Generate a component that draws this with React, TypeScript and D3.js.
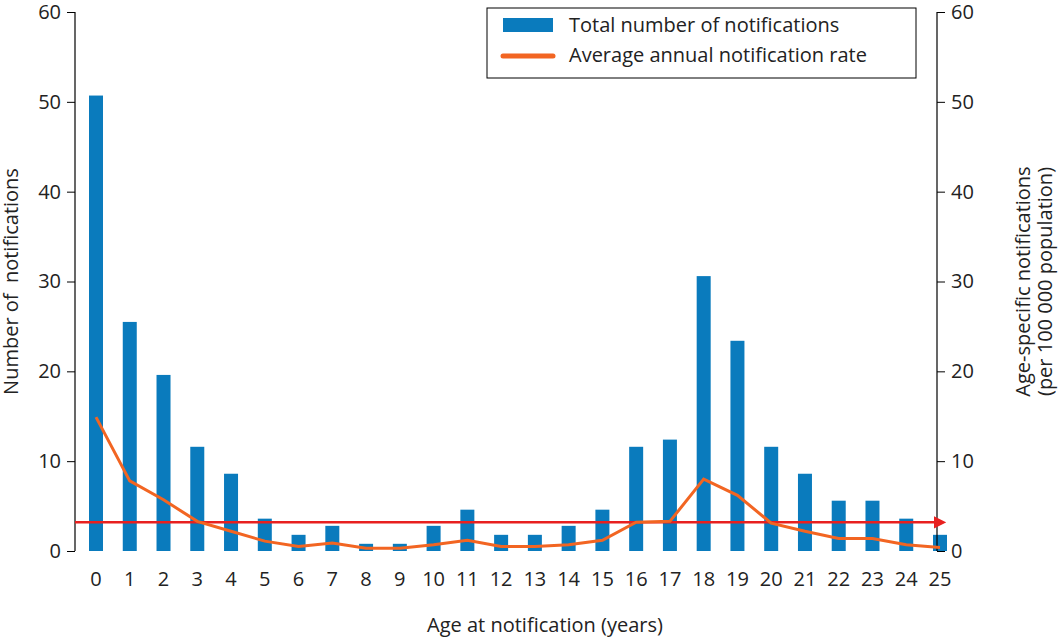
import * as d3 from "d3";
import { useEffect, useRef } from "react";

const ages = d3.range(0, 26);
const notifications = [50.7, 25.5, 19.6, 11.6, 8.6, 3.6, 1.8, 2.8, 0.8, 0.8, 2.8, 4.6, 1.8, 1.8, 2.8, 4.6, 11.6, 12.4, 30.6, 23.4, 11.6, 8.6, 5.6, 5.6, 3.6, 1.8];
const rates = [14.9, 7.8, 5.7, 3.3, 2.2, 1.1, 0.5, 0.9, 0.3, 0.3, 0.7, 1.2, 0.5, 0.5, 0.7, 1.2, 3.2, 3.3, 8.0, 6.2, 3.1, 2.2, 1.4, 1.4, 0.7, 0.4];
const averageRate = 3.2;
const yTicks = [0, 10, 20, 30, 40, 50, 60];

export default function App() {
  const ref = useRef<SVGSVGElement | null>(null);

  useEffect(() => {
    const svg = d3.select(ref.current);
    svg.selectAll("*").remove();
    const font = "'Open Sans', 'Noto Sans', sans-serif";
    const left = 75, right = 937, top = 12, bottom = 551;

    const x = d3.scaleLinear().domain([0, 25]).range([96, 940]);
    const y = d3.scaleLinear().domain([0, 60]).range([bottom, top]);
    const y2 = d3.scaleLinear().domain([0, 60]).range([bottom, top]);

    svg.append("defs").append("marker").attr("id", "arr").attr("viewBox", "0 0 10 10")
      .attr("refX", 5).attr("refY", 5).attr("markerWidth", 5).attr("markerHeight", 5)
      .attr("orient", "auto").attr("markerUnits", "strokeWidth")
      .append("path").attr("d", "M0,0L10,5L0,10z").attr("fill", "#e8201f");

    svg.append("g").selectAll("rect").data(notifications).join("rect")
      .attr("x", (_, i) => x(ages[i]) - 7).attr("width", 14)
      .attr("y", (d) => y(d)).attr("height", (d) => bottom - y(d))
      .attr("fill", "#0a7bbd");

    const la = svg.append("g").attr("transform", `translate(${left},0)`)
      .call(d3.axisLeft(y).tickValues(yTicks).tickSize(8).tickPadding(6));
    const ra = svg.append("g").attr("transform", `translate(${right},0)`)
      .call(d3.axisRight(y2).tickValues(yTicks).tickSize(8).tickPadding(6));
    [la, ra].forEach((a) => {
      a.select(".domain").attr("stroke", "#000").attr("stroke-width", 1.2).attr("d", `M0,${top}V${bottom}`);
      a.selectAll("text").attr("font-family", font).attr("font-size", 20).attr("fill", "#222");
    });

    svg.append("g").selectAll("text").data(ages).join("text")
      .attr("x", (d) => x(d)).attr("y", 586).attr("text-anchor", "middle")
      .attr("font-family", font).attr("font-size", 20).attr("fill", "#222").text((d) => d);

    svg.append("line").attr("x1", left).attr("x2", 940)
      .attr("y1", y2(averageRate)).attr("y2", y2(averageRate))
      .attr("stroke", "#e8201f").attr("stroke-width", 2.5).attr("marker-end", "url(#arr)");

    svg.append("path").datum(rates)
      .attr("d", d3.line<number>().x((_, i) => x(ages[i])).y((d) => y2(d)))
      .attr("fill", "none").attr("stroke", "#f26522").attr("stroke-width", 3);

    svg.append("text").attr("x", 545).attr("y", 632).attr("text-anchor", "middle")
      .attr("font-family", font).attr("font-size", 20).attr("fill", "#222").text("Age at notification (years)");
    svg.append("text").attr("transform", `translate(18,${(top + bottom) / 2}) rotate(-90)`)
      .attr("text-anchor", "middle").attr("font-family", font).attr("font-size", 20).attr("fill", "#222")
      .attr("xml:space", "preserve").style("white-space", "pre")
      .text("Number of  notifications");
    const t2 = svg.append("text").attr("transform", `translate(1030,${(top + bottom) / 2}) rotate(-90)`)
      .attr("text-anchor", "middle").attr("font-family", font).attr("font-size", 20).attr("fill", "#222");
    t2.append("tspan").attr("x", 0).attr("dy", 0).text("Age-specific notifications");
    t2.append("tspan").attr("x", 0).attr("dy", 22).text("(per 100 000 population)");

    const lg = svg.append("g");
    lg.append("rect").attr("x", 487).attr("y", 8).attr("width", 429).attr("height", 70)
      .attr("fill", "#fff").attr("stroke", "#000").attr("stroke-width", 1);
    lg.append("rect").attr("x", 503).attr("y", 18).attr("width", 50).attr("height", 14).attr("fill", "#0a7bbd");
    lg.append("line").attr("x1", 503).attr("x2", 553).attr("y1", 56).attr("y2", 56)
      .attr("stroke", "#f26522").attr("stroke-width", 5).attr("stroke-linecap", "round");
    lg.append("text").attr("x", 569).attr("y", 32).attr("font-family", font).attr("font-size", 20)
      .attr("fill", "#222").text("Total number of notifications");
    lg.append("text").attr("x", 569).attr("y", 62).attr("font-family", font).attr("font-size", 20)
      .attr("fill", "#222").text("Average annual notification rate");
  }, []);

  return <svg ref={ref} width={1064} height={637} style={{ position: "absolute", left: 0, top: 0, background: "#fff" }} />;
}
